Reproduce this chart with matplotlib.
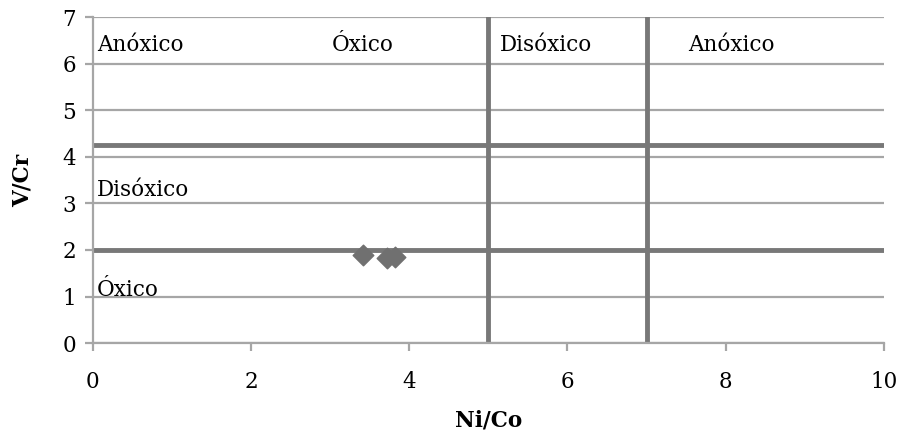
import matplotlib.pyplot as plt

# Data points (Ni/Co, V/Cr)
ni_co = [3.42, 3.72, 3.82]
v_cr = [1.90, 1.82, 1.86]

# Boundary lines
h_limits = [2.0, 4.25]
v_limits = [5, 7]

# Region labels: (x, y, text)
labels_x = [0.05, 3.02, 5.15, 7.52, 0.05, 0.05]
labels_y = [6.4, 6.4, 6.4, 6.4, 3.28, 1.14]
labels_txt = ['Anóxico', 'Óxico', 'Disóxico', 'Anóxico', 'Disóxico', 'Óxico']

plt.rcParams['font.family'] = ['DejaVu Serif']

fig = plt.figure(figsize=(9.01, 4.48), dpi=100)
ax = fig.add_axes([0.103, 0.234, 0.878, 0.728])

ax.set_xlim(0, 10)
ax.set_ylim(0, 7)
ax.set_xticks(range(0, 11, 2))
ax.set_yticks(range(0, 8))
ax.grid(True, axis='y', color='#a6a6a6', linewidth=1.6)
ax.set_axisbelow(True)

for y in h_limits:
    ax.axhline(y, color='#787878', linewidth=3.5, zorder=2)
for x in v_limits:
    ax.axvline(x, color='#787878', linewidth=3.5, zorder=2)

ax.scatter(ni_co, v_cr, marker='D', s=110, color='#707070', zorder=3)

for x, y, t in zip(labels_x, labels_y, labels_txt):
    ax.text(x, y, t, fontsize=15.5, va='center', ha='left', zorder=4)

for side in ['top', 'right']:
    ax.spines[side].set_visible(False)
for side in ['left', 'bottom']:
    ax.spines[side].set_color('#a6a6a6')
    ax.spines[side].set_linewidth(1.6)
ax.tick_params(colors='#a6a6a6', labelcolor='black', labelsize=15.5, length=6, width=1.6)
ax.tick_params(axis='x', pad=14)
ax.tick_params(axis='y', pad=6)

ax.set_xlabel('Ni/Co', fontsize=15.5, fontweight='bold', labelpad=12)
ax.set_ylabel('V/Cr', fontsize=15.5, fontweight='bold', labelpad=21)

fig.savefig('out.png', dpi=100)
